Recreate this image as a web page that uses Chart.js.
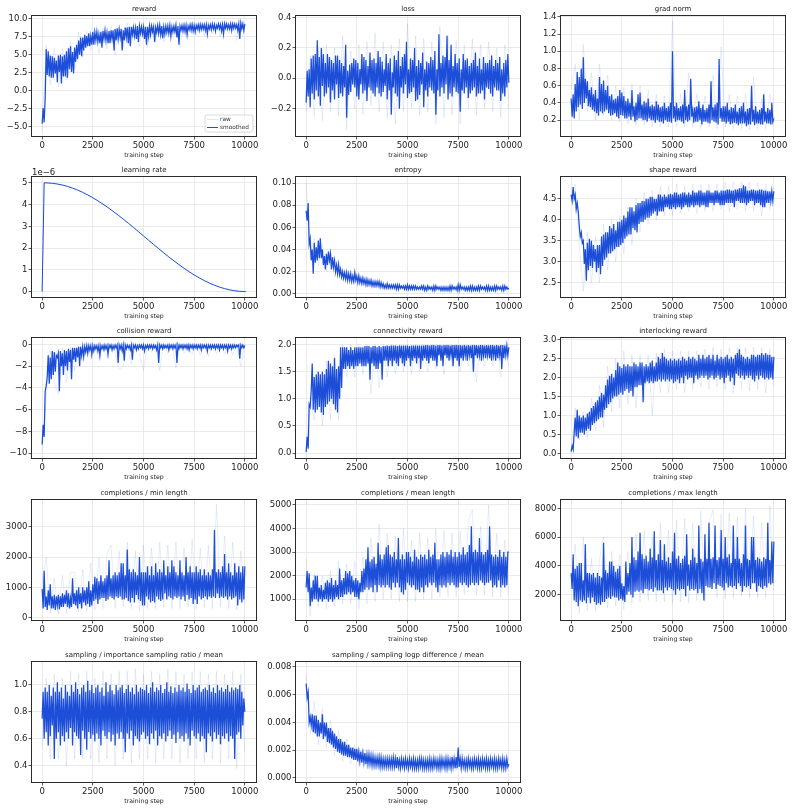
<!DOCTYPE html>
<html><head><meta charset="utf-8">
<script src="https://cdn.jsdelivr.net/npm/chart.js@4.4.1/dist/chart.umd.min.js"></script>
<style>
html,body{margin:0;padding:0;background:#fff;}
#wrap{position:relative;width:792px;height:810px;overflow:hidden;background:#fff;}
#wrap canvas{position:absolute;}
</style></head><body><div id="wrap"></div>
<script>
// ---- x categories (training steps) ----
const smoothSteps = [0,50,100,150,200,250,300,350,400,450,500,550,600,650,700,750,800,850,900,950,
1000,1050,1100,1150,1200,1250,1300,1350,1400,1450,1500,1550,1600,1650,1700,1750,1800,1850,1900,1950,
2000,2050,2100,2150,2200,2250,2300,2350,2400,2450,2500,2550,2600,2650,2700,2750,2800,2850,2900,2950,
3000,3050,3100,3150,3200,3250,3300,3350,3400,3450,3500,3550,3600,3650,3700,3750,3800,3850,3900,3950,
4000,4050,4100,4150,4200,4250,4300,4350,4400,4450,4500,4550,4600,4650,4700,4750,4800,4850,4900,4950,
5000,5050,5100,5150,5200,5250,5300,5350,5400,5450,5500,5550,5600,5650,5700,5750,5800,5850,5900,5950,
6000,6050,6100,6150,6200,6250,6300,6350,6400,6450,6500,6550,6600,6650,6700,6750,6800,6850,6900,6950,
7000,7050,7100,7150,7200,7250,7300,7350,7400,7450,7500,7550,7600,7650,7700,7750,7800,7850,7900,7950,
8000,8050,8100,8150,8200,8250,8300,8350,8400,8450,8500,8550,8600,8650,8700,8750,8800,8850,8900,8950,
9000,9050,9100,9150,9200,9250,9300,9350,9400,9450,9500,9550,9600,9650,9700,9750,9800,9850,9900,9950,10000];
const rawSteps = [0,200,400,600,800,1000,1200,1400,1600,1800,2000,2200,2400,2600,2800,3000,3200,3400,3600,3800,
4000,4200,4400,4600,4800,5000,5200,5400,5600,5800,6000,6200,6400,6600,6800,7000,7200,7400,7600,7800,
8000,8200,8400,8600,8800,9000,9200,9400,9600,9800,10000];
const lrSteps = [0,100,250,500,750,1000,1250,1500,1750,2000,2250,2500,2750,3000,3250,3500,3750,4000,4250,4500,4750,
5000,5250,5500,5750,6000,6250,6500,6750,7000,7250,7500,7750,8000,8250,8500,8750,9000,9250,9500,9750,10000,10050];
const xTicks = [0, 2500, 5000, 7500, 10000];

// ---- series values ----
const rewardSmoothed = [-4.6,-2.4,-4.4,-1.0,5.8,2.2,5.5,2.0,4.9,1.8,
4.8,1.8,4.6,2.4,4.2,1.2,4.9,2.6,5.0,1.0,
4.8,2.0,5.0,2.0,5.5,1.8,5.9,3.0,6.2,2.6,
5.4,2.4,6.0,4.0,6.4,4.4,7.0,5.0,7.4,4.8,
7.4,5.6,7.8,6.0,7.6,6.2,8.0,6.2,7.6,6.4,
8.2,6.4,8.1,7.0,8.2,6.8,7.9,6.6,8.2,6.0,
8.3,7.2,8.4,7.0,8.1,6.6,8.3,6.6,8.4,7.2,
8.4,5.6,8.6,7.0,8.7,7.2,8.5,7.4,8.6,5.6,
8.4,7.0,8.8,7.4,8.8,6.6,8.9,6.2,8.9,7.8,
8.8,7.6,8.7,7.2,9.0,6.8,9.0,8.0,8.9,7.9,
8.8,7.2,8.9,6.4,8.9,7.6,9.0,7.8,9.0,8.2,
8.9,6.8,8.8,8.1,9.1,8.0,9.1,7.8,9.0,7.3,
8.9,7.9,9.0,8.1,9.0,8.0,9.1,7.6,8.9,8.2,
9.0,8.2,9.1,7.4,9.0,6.4,9.0,8.4,9.1,8.3,
9.1,8.2,9.1,7.8,9.0,8.5,9.2,8.4,9.2,8.3,
9.1,8.2,9.1,8.6,9.2,8.4,9.2,8.5,9.2,8.6,
9.2,8.4,9.2,7.9,9.1,8.6,9.2,8.5,9.3,8.6,
9.2,8.3,9.1,8.7,9.3,8.6,9.2,8.3,9.2,7.9,
9.3,8.7,9.3,8.6,9.2,8.6,9.3,8.4,9.3,8.7,
9.3,8.7,9.2,8.4,9.3,7.2,9.4,8.6,9.3,8.4,9.3];
const rewardRaw = [-5.5,6.3,0.8,6.0,0.5,5.8,1.5,6.8,3.0,8.2,
4.6,8.3,5.6,8.7,5.2,8.8,5.8,9.0,5.0,9.1,
6.0,9.4,6.5,9.3,6.2,9.5,6.0,9.4,7.0,9.5,
6.8,9.5,7.4,9.6,6.0,9.5,7.6,9.6,7.8,9.6,
7.6,9.6,7.9,9.6,7.5,9.7,8.0,9.6,7.0,9.7,8.0];

const lossSmoothed = [-0.16,0.05,-0.12,0.06,-0.19,0.13,-0.10,0.15,-0.14,0.16,
-0.08,0.25,-0.12,0.14,-0.18,0.20,-0.05,0.16,-0.12,0.10,
-0.10,0.16,-0.06,0.14,-0.16,0.12,-0.08,0.10,-0.14,0.15,
-0.04,0.15,-0.13,0.12,-0.10,0.10,-0.12,0.08,-0.06,0.22,
-0.26,0.05,-0.11,0.09,-0.09,0.10,-0.04,0.13,-0.06,0.12,
-0.12,0.10,-0.14,0.06,-0.04,0.16,-0.10,0.14,-0.08,0.12,
-0.15,0.08,-0.06,0.17,-0.08,0.12,-0.10,0.13,-0.12,0.10,
-0.06,0.18,-0.10,0.14,-0.12,0.11,-0.09,0.06,-0.05,0.16,
-0.14,0.10,-0.08,0.13,-0.24,0.04,-0.06,0.15,-0.10,0.12,
-0.12,0.18,-0.20,0.08,-0.06,0.14,-0.10,0.16,-0.04,0.24,
-0.13,0.06,-0.10,0.13,-0.09,0.12,-0.06,0.20,-0.15,0.08,
-0.14,0.12,-0.11,0.10,-0.04,0.17,-0.19,0.06,-0.08,0.11,
-0.12,0.10,-0.06,0.14,-0.08,0.12,-0.10,0.18,-0.24,0.06,
-0.08,0.29,-0.12,0.10,-0.06,0.15,-0.10,0.14,-0.04,0.28,
-0.14,0.12,-0.10,0.22,-0.12,0.08,-0.06,0.16,-0.09,0.10,
-0.10,0.13,-0.22,0.06,-0.08,0.16,-0.10,0.12,-0.06,0.13,
-0.13,0.08,-0.10,0.10,-0.08,0.12,-0.06,0.17,-0.12,0.08,
-0.10,0.13,-0.10,0.06,-0.08,0.14,-0.14,0.10,-0.06,0.10,
-0.07,0.12,-0.10,0.15,-0.12,0.08,-0.06,0.12,-0.08,0.10,
-0.08,0.14,-0.15,0.06,-0.10,0.10,-0.12,0.12,-0.06,0.16,-0.03];
const lossRaw = [-0.22,0.15,-0.25,0.20,-0.28,0.22,-0.22,0.20,-0.25,0.28,
-0.34,0.18,-0.20,0.22,-0.24,0.24,-0.18,0.30,-0.22,0.24,
-0.26,0.22,-0.30,0.26,-0.22,0.36,-0.20,0.28,-0.24,0.26,
-0.22,0.24,-0.30,0.34,-0.26,0.28,-0.24,0.25,-0.30,0.22,
-0.20,0.26,-0.24,0.22,-0.20,0.24,-0.22,0.20,-0.26,0.22,-0.20];

const gradSmoothed = [0.45,0.24,0.50,0.22,0.62,0.30,0.76,0.35,0.70,0.38,
0.80,0.33,0.93,0.40,0.68,0.45,0.65,0.36,0.55,0.35,
0.58,0.32,0.50,0.30,0.55,0.28,0.45,0.25,0.70,0.30,
0.62,0.28,0.66,0.30,0.55,0.32,0.60,0.28,0.48,0.25,
0.50,0.26,0.44,0.28,0.45,0.24,0.48,0.22,0.55,0.26,
0.52,0.25,0.48,0.22,0.42,0.22,0.45,0.24,0.40,0.20,
0.55,0.24,0.36,0.18,0.40,0.20,0.50,0.22,0.52,0.22,
0.38,0.20,0.42,0.20,0.40,0.18,0.45,0.22,0.36,0.20,
0.38,0.20,0.36,0.17,0.42,0.20,0.38,0.18,0.35,0.18,
0.36,0.16,0.40,0.20,0.34,0.18,0.36,0.18,0.40,0.17,
1.00,0.22,0.36,0.18,0.40,0.20,0.34,0.20,0.36,0.18,
0.38,0.16,0.55,0.20,0.36,0.18,0.38,0.20,0.68,0.24,
0.32,0.17,0.35,0.18,0.36,0.18,0.42,0.20,0.34,0.15,
0.38,0.18,0.32,0.18,0.34,0.17,0.38,0.16,0.65,0.20,
0.35,0.18,0.38,0.17,0.40,0.15,0.91,0.22,0.34,0.18,
0.36,0.18,0.36,0.16,0.40,0.18,0.32,0.15,0.35,0.16,
0.34,0.17,0.38,0.16,0.30,0.14,0.34,0.16,0.36,0.16,
0.40,0.16,0.30,0.13,0.33,0.15,0.34,0.15,0.60,0.18,
0.32,0.14,0.36,0.16,0.30,0.16,0.32,0.15,0.34,0.15,
0.50,0.18,0.30,0.16,0.34,0.16,0.32,0.15,0.40,0.18,0.22];
const gradRaw = [0.55,0.85,0.20,1.08,0.30,0.75,0.20,0.85,0.25,0.72,
0.20,0.60,0.18,0.58,0.15,0.62,0.14,0.60,0.14,0.55,
0.12,0.50,0.12,0.48,0.12,1.35,0.13,0.50,0.12,0.75,
0.12,0.50,0.10,0.48,0.12,0.72,0.10,1.05,0.12,0.50,
0.10,0.48,0.10,0.50,0.09,0.70,0.10,0.45,0.10,0.50,0.15];

// learning rate, in units of 1e-6 (axis offset label "1e-6")
const lrValues = [0,5.0,4.997,4.980,4.948,4.900,4.837,4.760,4.668,4.563,4.446,4.316,4.175,4.023,3.862,3.693,3.516,3.333,3.145,2.952,2.756,
2.559,2.362,2.166,1.971,1.780,1.593,1.413,1.238,1.072,0.914,0.767,0.630,0.505,0.392,0.293,0.207,0.135,0.079,0.037,0.011,0.001,0.0];

const entropySmoothed = [0.075,0.066,0.082,0.045,0.050,0.030,0.040,0.018,0.046,0.028,
0.042,0.030,0.048,0.032,0.050,0.032,0.040,0.026,0.034,0.022,
0.036,0.026,0.038,0.030,0.036,0.022,0.033,0.024,0.030,0.020,
0.026,0.018,0.026,0.017,0.022,0.015,0.020,0.014,0.019,0.013,
0.019,0.012,0.018,0.012,0.018,0.011,0.016,0.011,0.019,0.012,
0.016,0.010,0.016,0.010,0.014,0.009,0.014,0.009,0.013,0.008,
0.013,0.008,0.012,0.008,0.012,0.007,0.011,0.007,0.011,0.007,
0.011,0.007,0.011,0.006,0.010,0.006,0.009,0.005,0.008,0.005,
0.009,0.005,0.008,0.005,0.008,0.005,0.008,0.005,0.008,0.004,
0.008,0.004,0.008,0.005,0.007,0.005,0.007,0.004,0.007,0.004,
0.008,0.004,0.007,0.004,0.007,0.004,0.007,0.004,0.007,0.004,
0.006,0.004,0.006,0.004,0.007,0.004,0.007,0.003,0.006,0.003,
0.007,0.004,0.006,0.004,0.006,0.003,0.007,0.003,0.007,0.004,
0.006,0.004,0.006,0.003,0.006,0.003,0.006,0.003,0.006,0.003,
0.006,0.003,0.007,0.003,0.007,0.004,0.006,0.004,0.006,0.003,
0.008,0.003,0.008,0.004,0.006,0.004,0.006,0.003,0.006,0.003,
0.006,0.003,0.007,0.003,0.007,0.003,0.006,0.003,0.006,0.003,
0.007,0.003,0.007,0.004,0.006,0.004,0.006,0.003,0.007,0.003,
0.007,0.003,0.006,0.003,0.006,0.003,0.007,0.003,0.007,0.004,
0.006,0.004,0.006,0.003,0.007,0.003,0.007,0.004,0.006,0.004,0.005];
const entropyRaw = [0.100,0.035,0.050,0.025,0.045,0.020,0.040,0.015,0.030,0.012,
0.022,0.010,0.020,0.008,0.016,0.006,0.014,0.005,0.012,0.004,
0.010,0.003,0.009,0.003,0.009,0.003,0.008,0.003,0.008,0.002,
0.008,0.002,0.008,0.002,0.007,0.002,0.008,0.002,0.009,0.002,
0.007,0.002,0.008,0.002,0.007,0.002,0.008,0.002,0.008,0.002,0.007];

const shapeSmoothed = [4.60,4.45,4.78,4.50,4.60,4.25,4.40,4.20,3.85,3.60,
3.70,3.45,3.50,2.95,3.30,2.55,3.45,2.80,3.55,2.90,
3.50,2.85,3.40,3.00,3.30,2.75,3.40,2.85,3.40,2.70,
3.60,2.90,3.65,3.05,3.70,3.10,3.70,3.20,3.85,3.20,
3.80,3.25,3.90,3.30,3.75,3.35,3.95,3.35,3.95,3.40,
4.00,3.45,4.10,3.55,4.05,3.60,4.20,3.65,4.30,3.65,
4.30,3.80,4.20,3.75,4.35,3.70,4.40,3.90,4.40,3.95,
4.45,3.95,4.45,4.00,4.50,4.05,4.50,4.05,4.55,4.10,
4.55,4.15,4.50,4.20,4.50,4.10,4.60,4.20,4.60,4.20,
4.55,4.20,4.60,4.30,4.55,4.30,4.60,4.25,4.62,4.25,
4.60,4.30,4.65,4.25,4.65,4.30,4.60,4.30,4.62,4.25,
4.65,4.30,4.65,4.35,4.60,4.30,4.65,4.30,4.60,4.35,
4.70,4.30,4.65,4.35,4.65,4.35,4.70,4.30,4.70,4.35,
4.65,4.35,4.65,4.30,4.70,4.30,4.70,4.40,4.65,4.40,
4.65,4.35,4.70,4.40,4.70,4.40,4.65,4.35,4.70,4.35,
4.70,4.35,4.70,4.40,4.72,4.40,4.72,4.40,4.70,4.40,
4.70,4.30,4.72,4.45,4.72,4.45,4.75,4.40,4.75,4.40,
4.82,4.40,4.80,4.35,4.70,4.40,4.70,4.45,4.72,4.45,
4.72,4.35,4.70,4.40,4.70,4.40,4.72,4.35,4.72,4.30,
4.70,4.30,4.70,4.40,4.68,4.40,4.68,4.45,4.68,4.45,4.68];
const shapeRaw = [4.45,4.85,3.40,2.30,3.70,2.50,3.60,2.50,3.90,2.80,
4.00,3.00,4.10,3.20,4.30,3.40,4.50,3.70,4.65,3.90,
4.70,4.00,4.80,4.10,4.80,4.10,4.85,4.15,4.80,4.20,
4.85,4.15,4.85,4.20,4.85,4.20,4.85,4.25,4.90,4.20,
4.90,4.25,4.90,4.20,4.90,4.20,4.88,4.10,4.85,4.25,4.80];

const collisionSmoothed = [-9.2,-7.4,-8.5,-4.3,-3.8,-3.0,-1.0,-3.6,-1.2,-3.2,
-0.6,-2.8,-0.7,-2.5,-1.0,-1.2,-0.8,-4.3,-0.6,-2.0,
-0.8,-2.8,-0.5,-2.0,-0.6,-2.4,-0.4,-1.6,-0.5,-3.2,
-0.3,-1.4,-0.3,-1.6,-0.3,-1.2,-0.2,-2.0,-0.2,-1.0,
-0.2,-1.1,-0.2,-0.7,-0.1,-0.8,-0.1,-0.5,-0.1,-0.9,
-0.1,-0.6,-0.1,-0.4,-0.1,-0.6,-0.1,-1.0,-0.1,-0.4,
-0.1,-0.5,-0.05,-0.4,-0.1,-0.9,-0.05,-0.3,-0.05,-0.5,
-0.1,-0.4,-0.05,-0.3,-0.05,-1.7,-0.05,-0.4,-0.05,-0.6,
-0.05,-1.5,-0.05,-0.4,-0.05,-0.3,-0.1,-0.5,-0.05,-1.4,
-0.05,-0.3,-0.05,-0.5,-0.1,-0.4,-0.05,-0.3,-0.05,-0.4,
-0.05,-0.6,-0.1,-0.3,-0.05,-0.4,-0.05,-0.3,-0.05,-0.4,
-0.05,-0.3,-0.1,-0.5,-0.05,-1.7,-0.05,-0.3,-0.05,-0.4,
-0.05,-0.3,-0.1,-0.3,-0.05,-0.5,-0.05,-0.3,-0.05,-0.4,
-0.05,-0.3,-0.05,-1.7,-0.05,-0.4,-0.05,-0.3,-0.05,-0.4,
-0.05,-0.3,-0.05,-0.4,-0.05,-0.5,-0.05,-0.3,-0.05,-0.4,
-0.05,-0.3,-0.05,-0.4,-0.05,-0.3,-0.05,-0.5,-0.05,-0.3,
-0.05,-0.3,-0.05,-0.6,-0.05,-0.3,-0.05,-0.4,-0.05,-0.3,
-0.05,-0.4,-0.05,-0.3,-0.05,-0.5,-0.05,-0.3,-0.05,-0.4,
-0.05,-0.3,-0.05,-0.6,-0.05,-0.3,-0.05,-0.4,-0.05,-0.3,
-0.05,-0.3,-0.05,-0.2,-0.05,-1.3,-0.05,-0.3,-0.05,-0.3,-0.1];
const collisionRaw = [-10.0,-4.8,-0.5,-3.6,-4.6,-0.3,-3.4,-0.2,-2.4,-0.1,
-1.5,0.0,-1.2,0.0,-1.3,0.0,-1.2,0.0,-0.8,-2.3,
-2.0,0.0,-1.8,0.0,-0.9,-2.4,0.0,-0.7,0.0,-2.4,
0.0,-0.8,0.0,-2.2,0.0,-0.8,0.0,-0.9,0.0,-1.0,
0.0,-1.1,0.0,-0.8,0.0,-0.9,0.0,-1.0,0.0,-2.0,0.0];

const connectivitySmoothed = [0.02,0.30,0.08,0.90,0.85,1.15,1.65,0.80,1.40,0.75,
1.45,0.80,1.50,0.85,1.45,0.75,1.50,0.70,1.45,0.85,
1.55,0.90,1.70,0.95,1.65,1.00,1.60,0.90,1.75,0.80,
1.55,0.75,1.60,1.00,1.95,1.20,1.95,1.55,1.95,1.55,
1.95,1.60,1.90,1.55,1.95,1.60,1.90,1.55,1.95,1.60,
1.95,1.60,1.95,1.65,1.95,1.60,1.95,1.60,1.97,1.60,
1.97,1.65,1.97,1.35,1.95,1.65,1.97,1.60,1.97,1.55,
1.95,1.55,1.97,1.65,1.95,1.35,1.97,1.70,1.97,1.70,
1.98,1.60,1.97,1.70,1.98,1.60,1.98,1.70,1.98,1.65,
1.97,1.60,1.98,1.75,1.98,1.65,1.98,1.60,1.98,1.70,
1.98,1.75,1.97,1.60,1.98,1.70,1.98,1.75,1.98,1.65,
1.98,1.75,1.98,1.55,1.98,1.70,1.98,1.75,1.99,1.70,
1.99,1.65,1.98,1.75,1.99,1.70,1.99,1.70,1.98,1.60,
1.99,1.80,1.99,1.70,1.98,1.60,1.99,1.80,1.99,1.75,
1.99,1.70,1.98,1.80,1.99,1.60,1.99,1.75,1.99,1.70,
1.99,1.60,1.99,1.75,1.98,1.70,1.99,1.80,1.98,1.70,
1.99,1.80,1.98,1.75,1.99,1.50,1.99,1.80,1.99,1.75,
1.98,1.80,1.99,1.70,1.99,1.80,1.98,1.75,1.99,1.80,
1.98,1.75,1.99,1.70,1.99,1.80,1.98,1.70,1.99,1.75,
1.98,1.80,1.99,1.55,1.99,1.75,1.98,1.80,1.98,1.80,1.95];
const connectivityRaw = [0.00,1.00,0.60,1.50,0.50,1.70,0.60,1.80,0.60,2.00,
1.40,2.00,1.40,2.00,1.45,2.00,1.10,2.00,1.20,2.00,
1.40,2.00,1.45,2.00,1.50,2.00,1.45,2.00,1.50,2.00,
1.50,2.00,1.55,2.00,1.45,2.00,1.60,2.00,1.50,2.00,
1.60,2.00,1.30,2.00,1.60,2.00,1.60,2.00,1.40,2.00,1.60];

const interlockingSmoothed = [0.05,0.20,0.10,0.55,0.95,0.45,1.15,0.40,1.00,0.55,
0.95,0.55,1.00,0.50,0.95,0.60,1.05,0.65,1.10,0.60,
1.20,0.75,1.25,0.80,1.35,0.85,1.40,0.90,1.50,0.95,
1.60,0.95,1.55,1.15,1.80,1.20,1.95,1.30,2.05,1.35,
2.10,1.45,2.00,1.50,2.20,1.50,2.40,1.55,2.30,1.60,
2.25,1.55,2.35,1.65,2.30,1.70,2.35,1.60,2.30,1.65,
2.30,1.50,2.40,1.75,2.35,1.75,2.30,1.80,2.40,1.80,
2.40,1.35,2.30,1.85,2.35,1.90,2.30,1.85,2.40,1.90,
2.45,1.85,2.30,1.90,2.40,1.90,2.55,1.95,2.50,1.90,
2.65,1.95,2.55,1.90,2.50,1.95,2.45,1.90,2.50,1.95,
2.45,1.85,2.50,1.90,2.45,1.95,2.50,1.85,2.45,2.00,
2.55,1.85,2.50,2.05,2.45,1.95,2.55,2.00,2.50,2.00,
2.55,1.85,2.50,2.05,2.45,1.95,2.60,2.00,2.50,2.05,
2.60,2.00,2.50,2.05,2.55,1.95,2.60,2.00,2.50,2.05,
2.60,1.95,2.45,2.00,2.60,2.05,2.50,1.95,2.55,2.00,
2.50,1.85,2.55,2.00,2.60,2.05,2.50,1.90,2.55,2.00,
2.50,1.80,2.60,2.10,2.65,2.05,2.75,2.00,2.60,2.05,
2.55,1.95,2.50,2.05,2.55,2.00,2.50,2.05,2.60,1.95,
2.60,1.90,2.55,2.05,2.60,1.95,2.60,2.05,2.65,2.00,
2.60,1.95,2.65,2.00,2.60,1.95,2.60,2.00,2.55,1.95,2.55];
const interlockingRaw = [0.00,1.20,0.35,1.10,0.40,1.45,0.60,1.80,0.70,2.30,
1.10,2.50,1.20,2.70,1.30,2.60,1.20,2.60,1.40,2.60,
1.00,2.65,1.60,2.75,1.60,2.70,1.70,2.70,1.60,2.70,
1.70,2.70,1.75,2.75,1.70,2.80,1.75,2.75,1.70,2.80,
1.60,2.80,1.70,2.80,1.65,2.80,1.70,2.80,1.60,2.75,1.80];

const minLenSmoothed = [950,300,1550,350,700,250,900,400,1100,300,
700,300,750,250,700,400,750,280,700,350,
800,350,750,450,900,350,800,300,650,350,
1300,450,800,400,900,300,1000,450,800,300,
1000,500,900,400,1000,450,1200,350,900,400,
1100,550,1350,600,1300,450,1200,600,1400,650,
1200,650,1300,550,1400,600,1900,700,1300,650,
1400,600,1500,700,1400,650,1500,700,1800,600,
1800,600,1400,650,2250,550,1600,500,1500,650,
1600,500,1500,750,1400,600,2000,550,1500,400,
1500,400,1500,700,1700,600,1400,500,1700,550,
1400,500,1800,700,1500,600,1600,550,1500,600,
1900,800,1400,600,1700,700,1500,650,1900,600,
1700,700,1500,650,1400,700,1900,600,1500,700,
1400,550,2000,750,1500,600,1700,650,1500,450,
1500,600,1700,450,1500,700,1600,600,1400,650,
1600,700,1400,600,1500,700,1400,650,1600,700,
2900,650,1500,800,1600,650,1500,700,1700,650,
2100,700,1500,600,1800,700,1500,600,1400,650,
1800,700,1500,400,1700,600,1500,500,1700,600,1700];
const minLenRaw = [1100,2000,150,1300,100,1400,150,1500,1500,200,
1600,200,1800,250,2000,300,2100,2400,300,2200,
350,2500,300,2200,250,2400,300,2300,300,2500,
350,2400,300,2500,300,2300,350,2600,300,2300,
350,2400,300,3750,350,2700,300,2500,250,2200,400];

const meanLenSmoothed = [1500,2200,1300,2100,700,1500,900,1800,1000,2000,
1000,2000,900,1500,1000,1600,900,1400,1000,1700,
1000,1800,900,1700,1000,1900,900,1600,1000,1800,
1100,1600,1000,2300,1100,1800,1100,1900,1200,2200,
1200,2100,1300,2200,1200,2000,1300,1800,1100,1900,
1100,1800,1000,1700,1300,2200,1300,2300,1400,2700,
1500,3200,1400,2600,1500,2700,1300,2800,1600,2500,
1300,3400,1600,2900,1500,2700,1600,2900,1500,3200,
1600,3300,1500,2900,1400,2800,1700,3000,1500,2700,
1700,3600,1500,2700,1300,2900,1200,2700,1400,3000,
1700,3000,1600,2800,1500,2600,1600,3100,1400,2800,
1400,2700,1300,2900,1500,2800,1300,2900,1600,2700,
1500,3100,1700,2800,1600,2900,1700,3400,1500,2700,
1300,2700,1600,2900,1500,3000,1600,2800,1500,3000,
1700,2900,1600,3100,1700,2800,1600,3000,1500,2800,
1500,3000,1700,2900,1600,3200,1700,2900,1600,3000,
1500,3300,1600,4100,1700,3000,1600,3100,1700,3000,
1600,3600,1800,3000,1700,2900,1600,3000,1700,3100,
1700,4100,1800,2900,1500,2800,1600,2900,1500,2800,
1800,3100,1500,2800,1600,3000,1500,2800,1600,3000,3000];
const meanLenRaw = [2700,300,2100,700,2000,600,2200,700,2600,800,
2500,800,2600,600,2800,800,3600,900,4200,1000,
3800,1000,3700,900,4000,900,3500,900,3800,1000,
3600,1000,4000,1100,3900,1100,3800,1100,3900,1200,
4300,4800,1200,4100,1200,5000,1100,3800,1100,3500,1200];

const maxLenSmoothed = [3500,2400,4800,1600,3800,1500,4000,1200,4200,1600,
4200,1500,3000,1600,5500,1400,3500,1800,3500,1400,
3400,1800,3500,1500,3200,1300,3500,1400,3300,1300,
3200,1500,5600,1500,3700,1700,3500,1800,4300,1700,
4300,1900,4000,1800,3600,1800,3800,1600,4000,1700,
2800,1600,2600,1500,4300,2000,3500,2200,4200,2000,
6000,1800,4600,2200,4400,2300,5000,2200,6300,2300,
4800,2100,4500,2400,4700,2400,4300,2300,5200,2400,
4600,2200,6400,2500,4400,2300,4800,2300,5800,2300,
4400,2100,5500,2500,4300,2300,4600,2500,4200,2400,
5000,2300,6300,2000,4500,2400,4700,2300,4200,2400,
4500,2400,4700,1900,6200,2600,4100,2300,4400,2400,
5200,2300,4600,2400,4200,2100,6800,2400,4500,2100,
4300,1600,6200,2600,4500,2500,7000,2500,4500,2400,
4600,2800,6800,2400,4400,2700,4600,2600,6500,2500,
4500,2300,6000,2800,4600,2500,4800,2600,4200,2500,
6800,2600,4500,2400,6000,2800,4500,2600,4200,2200,
4800,2600,6800,2500,4500,2600,4400,2400,6000,2800,
6000,2800,4400,2200,4600,2600,4500,2500,4300,2400,
4600,2600,4500,2500,7000,2800,4400,2700,5700,2800,5700];
const maxLenRaw = [2500,5500,700,6000,900,4500,900,4400,6000,1100,
5000,1200,4800,1000,5000,1400,6200,1500,6500,1600,
6000,1500,7000,1500,6500,1400,7200,1500,7300,1400,
7000,1600,7800,1500,7000,7900,1800,7600,1700,7700,
1800,7400,1900,8000,1800,7500,1800,7000,1800,8200,2300];

const isRatioSmoothed = [0.75,0.95,0.60,0.98,0.65,0.95,0.55,1.00,0.62,0.92,
0.70,0.98,0.45,0.95,0.60,1.02,0.65,0.95,0.55,0.98,
0.62,0.90,0.58,1.00,0.65,0.95,0.60,0.92,0.68,1.00,
0.55,0.95,0.65,1.02,0.62,0.97,0.60,0.93,0.48,0.98,
0.66,1.00,0.60,0.95,0.52,1.03,0.65,0.96,0.60,1.00,
0.63,0.94,0.58,0.98,0.64,1.00,0.60,0.95,0.55,0.98,
0.66,0.92,0.62,1.02,0.60,0.95,0.65,1.00,0.58,0.96,
0.63,0.93,0.55,1.00,0.64,0.96,0.60,0.98,0.65,1.00,
0.60,0.94,0.50,0.97,0.64,1.00,0.60,0.95,0.66,0.98,
0.55,0.93,0.62,1.00,0.60,0.95,0.58,0.98,0.63,0.97,
0.65,0.96,0.60,1.00,0.62,0.94,0.56,0.98,0.64,1.02,
0.60,0.95,0.66,0.98,0.55,0.96,0.62,1.00,0.60,0.94,
0.64,0.97,0.58,1.02,0.62,0.95,0.66,0.99,0.60,0.94,
0.63,0.98,0.57,0.95,0.65,1.00,0.60,0.96,0.62,0.98,
0.58,0.95,0.64,1.01,0.60,0.97,0.55,0.94,0.66,1.00,
0.62,0.96,0.60,0.98,0.64,1.00,0.58,0.95,0.62,0.97,
0.60,0.98,0.50,0.96,0.64,1.00,0.62,0.95,0.58,0.98,
0.65,0.94,0.60,1.00,0.63,0.96,0.56,0.98,0.62,0.95,
0.60,0.97,0.64,1.00,0.58,0.95,0.62,0.98,0.60,0.96,
0.45,0.98,0.63,0.97,0.65,1.00,0.60,0.95,0.70,0.90,0.80];
const isRatioRaw = [0.55,1.05,0.45,1.08,0.45,1.05,0.40,1.10,0.45,1.08,
0.45,1.10,0.45,1.05,0.42,1.10,0.45,1.08,0.40,1.10,
0.45,1.10,0.42,1.12,0.45,1.08,0.45,1.10,0.42,1.08,
0.45,1.12,0.45,1.10,0.42,1.08,0.45,1.10,0.45,1.10,
0.42,1.08,0.45,1.10,0.42,1.08,0.45,1.10,0.38,1.08,0.50];

const logpDiffSmoothed = [0.0068,0.0058,0.0062,0.0040,0.0044,0.0038,0.0046,0.0033,0.0045,0.0032,
0.0045,0.0030,0.0042,0.0030,0.0040,0.0032,0.0046,0.0028,0.0040,0.0030,
0.0040,0.0026,0.0036,0.0025,0.0036,0.0024,0.0034,0.0022,0.0032,0.0021,
0.0030,0.0019,0.0028,0.0018,0.0028,0.0017,0.0026,0.0016,0.0026,0.0016,
0.0024,0.0015,0.0024,0.0015,0.0022,0.0014,0.0022,0.0013,0.0021,0.0013,
0.0021,0.0012,0.0019,0.0012,0.0019,0.0011,0.0018,0.0011,0.0018,0.0010,
0.0017,0.0010,0.0017,0.0010,0.0016,0.0009,0.0016,0.0009,0.0015,0.0009,
0.0015,0.0009,0.0015,0.0008,0.0015,0.0008,0.0014,0.0008,0.0014,0.0008,
0.0014,0.0008,0.0014,0.0008,0.0014,0.0008,0.0015,0.0008,0.0014,0.0007,
0.0015,0.0008,0.0013,0.0007,0.0014,0.0008,0.0013,0.0007,0.0014,0.0008,
0.0013,0.0007,0.0014,0.0008,0.0013,0.0007,0.0014,0.0007,0.0013,0.0007,
0.0013,0.0007,0.0014,0.0008,0.0014,0.0007,0.0013,0.0007,0.0013,0.0007,
0.0013,0.0007,0.0014,0.0007,0.0013,0.0007,0.0014,0.0008,0.0013,0.0007,
0.0013,0.0007,0.0014,0.0007,0.0014,0.0008,0.0013,0.0007,0.0014,0.0007,
0.0014,0.0008,0.0013,0.0007,0.0015,0.0008,0.0014,0.0007,0.0015,0.0007,
0.0022,0.0008,0.0014,0.0007,0.0014,0.0008,0.0013,0.0007,0.0013,0.0007,
0.0014,0.0008,0.0013,0.0007,0.0013,0.0007,0.0014,0.0008,0.0013,0.0007,
0.0014,0.0007,0.0013,0.0007,0.0014,0.0008,0.0013,0.0007,0.0014,0.0007,
0.0013,0.0007,0.0014,0.0008,0.0013,0.0007,0.0014,0.0007,0.0013,0.0007,
0.0014,0.0008,0.0013,0.0007,0.0014,0.0007,0.0013,0.0007,0.0014,0.0008,0.0010];
const logpDiffRaw = [0.0075,0.0032,0.0055,0.0024,0.0050,0.0022,0.0042,0.0016,0.0034,0.0012,
0.0028,0.0010,0.0024,0.0009,0.0021,0.0007,0.0019,0.0006,0.0018,0.0006,
0.0017,0.0005,0.0017,0.0005,0.0016,0.0005,0.0016,0.0005,0.0016,0.0004,
0.0016,0.0005,0.0016,0.0004,0.0016,0.0005,0.0017,0.0005,0.0024,0.0004,
0.0016,0.0005,0.0016,0.0004,0.0016,0.0005,0.0016,0.0004,0.0016,0.0005,0.0015];

// ---- panel titles and y tick labels ----
const titles = ['reward','loss','grad norm','learning rate','entropy','shape reward',
  'collision reward','connectivity reward','interlocking reward',
  'completions / min length','completions / mean length','completions / max length',
  'sampling / importance sampling ratio / mean','sampling / sampling logp difference / mean'];
const rewardTicks = [-5, -2.5, 0, 2.5, 5, 7.5, 10];
const lossTicks = [-0.2, 0, 0.2, 0.4];
const gradTicks = [0.2, 0.4, 0.6, 0.8, 1.0, 1.2, 1.4];
const lrTicks = [0, 1, 2, 3, 4, 5];
const entropyTicks = [0, 0.02, 0.04, 0.06, 0.08, 0.10];
const shapeTicks = [2.5, 3.0, 3.5, 4.0, 4.5];
const collisionTicks = [-10, -8, -6, -4, -2, 0];
const connectivityTicks = [0, 0.5, 1.0, 1.5, 2.0];
const interlockingTicks = [0, 0.5, 1.0, 1.5, 2.0, 2.5, 3.0];
const minLenTicks = [0, 1000, 2000, 3000];
const meanLenTicks = [1000, 2000, 3000, 4000, 5000];
const maxLenTicks = [2000, 4000, 6000, 8000];
const isRatioTicks = [0.4, 0.6, 0.8, 1.0];
const logpDiffTicks = [0, 0.002, 0.004, 0.006, 0.008];

const FONT = '"DejaVu Sans", sans-serif';
const BLUE = '#1d4ed8';
const RAWC = 'rgba(29,78,216,0.10)';
const TXT = '#222';

const panels = [
  {s: rewardSmoothed, r: rewardRaw, ticks: rewardTicks, min: -6.3, max: 10.4, dec: 1, legend: true},
  {s: lossSmoothed, r: lossRaw, ticks: lossTicks, min: -0.38, max: 0.41, dec: 1},
  {s: gradSmoothed, r: gradRaw, ticks: gradTicks, min: 0.015, max: 1.41, dec: 1},
  {s: lrValues, r: lrValues, sx: lrSteps, rx: lrSteps, ticks: lrTicks, min: -0.25, max: 5.27, dec: 0, offset: '1e\u22126', lw: 1},
  {s: entropySmoothed, r: entropyRaw, ticks: entropyTicks, min: -0.003, max: 0.1055, dec: 2},
  {s: shapeSmoothed, r: shapeRaw, ticks: shapeTicks, min: 2.16, max: 5.02, dec: 1},
  {s: collisionSmoothed, r: collisionRaw, ticks: collisionTicks, min: -10.45, max: 0.6, dec: 0},
  {s: connectivitySmoothed, r: connectivityRaw, ticks: connectivityTicks, min: -0.09, max: 2.12, dec: 1},
  {s: interlockingSmoothed, r: interlockingRaw, ticks: interlockingTicks, min: -0.12, max: 3.045, dec: 1},
  {s: minLenSmoothed, r: minLenRaw, ticks: minLenTicks, min: -80, max: 3890, dec: 0},
  {s: meanLenSmoothed, r: meanLenRaw, ticks: meanLenTicks, min: 120, max: 5210, dec: 0},
  {s: maxLenSmoothed, r: maxLenRaw, ticks: maxLenTicks, min: 240, max: 8580, dec: 0},
  {s: isRatioSmoothed, r: isRatioRaw, ticks: isRatioTicks, min: 0.28, max: 1.17, dec: 1},
  {s: logpDiffSmoothed, r: logpDiffRaw, ticks: logpDiffTicks, min: -0.00029, max: 0.00836, dec: 3}
];

// ---- layout ----
const PLOT_L = [32, 296, 561];
const PLOT_T = [16, 177, 338, 500, 662];
const PW = 224, PH = 120, YW = 32, TOPPAD = 16, XH = 26, RPAD = 6;

function fmt(dec) {
  return v => {
    const s = Math.abs(v).toFixed(dec);
    return (v < 0 && parseFloat(s) !== 0 ? '\u2212' : '') + s;
  };
}

const deco = {
  id: 'deco',
  afterDraw(chart) {
    const o = chart.options.plugins.deco;
    const {ctx, chartArea: a} = chart;
    ctx.save();
    ctx.strokeStyle = '#2b2b2b';
    ctx.lineWidth = 1;
    ctx.strokeRect(a.left - 0.5, a.top - 0.5, a.right - a.left + 1, a.bottom - a.top + 1);
    ctx.fillStyle = TXT;
    ctx.font = '7px ' + FONT;
    ctx.textAlign = 'center';
    ctx.textBaseline = 'middle';
    ctx.fillText(o.title, (a.left + a.right) / 2, a.top - 6.5);
    if (o.offset) {
      ctx.font = '8.5px ' + FONT;
      ctx.textAlign = 'left';
      ctx.textBaseline = 'middle';
      ctx.fillText(o.offset, a.left, a.top - 4.5);
    }
    if (o.legend) {
      const bx = a.right - 51, by = a.bottom - 21, bw = 48, bh = 17;
      ctx.fillStyle = 'rgba(255,255,255,0.85)';
      ctx.strokeStyle = '#d0d0d0';
      ctx.lineWidth = 0.8;
      ctx.beginPath();
      ctx.roundRect(bx, by, bw, bh, 2);
      ctx.fill(); ctx.stroke();
      ctx.lineWidth = 1;
      ctx.strokeStyle = 'rgba(29,78,216,0.15)';
      ctx.beginPath(); ctx.moveTo(bx + 2, by + 4.5); ctx.lineTo(bx + 13, by + 4.5); ctx.stroke();
      ctx.strokeStyle = BLUE;
      ctx.beginPath(); ctx.moveTo(bx + 2, by + 12.5); ctx.lineTo(bx + 13, by + 12.5); ctx.stroke();
      ctx.fillStyle = '#333';
      ctx.font = '5.8px ' + FONT;
      ctx.textAlign = 'left';
      ctx.textBaseline = 'middle';
      ctx.fillText('raw', bx + 15, by + 4.5);
      ctx.fillText('smoothed', bx + 15, by + 12.5);
    }
    ctx.restore();
  }
};

const wrap = document.getElementById('wrap');
panels.forEach((p, i) => {
  const col = i % 3, row = Math.floor(i / 3);
  const cv = document.createElement('canvas');
  const w = YW + PW + RPAD, h = TOPPAD + PH + XH;
  cv.width = w; cv.height = h;
  cv.style.left = (PLOT_L[col] - YW) + 'px';
  cv.style.top = (PLOT_T[row] - TOPPAD) + 'px';
  cv.style.width = w + 'px'; cv.style.height = h + 'px';
  wrap.appendChild(cv);
  const sx = p.sx || smoothSteps, rx = p.rx || rawSteps;
  new Chart(cv, {
    type: 'line',
    data: {
      datasets: [
        {label: 'smoothed', data: sx.map((x, k) => ({x, y: p.s[k]})), borderColor: BLUE, borderWidth: p.lw || 1.25, pointRadius: 0, tension: 0, fill: false, order: 1},
        {label: 'raw', data: rx.map((x, k) => ({x, y: p.r[k]})), borderColor: RAWC, borderWidth: 1, pointRadius: 0, tension: 0, fill: false, order: 2}
      ]
    },
    options: {
      responsive: false, animation: false, devicePixelRatio: 1,
      layout: {padding: {top: TOPPAD, right: RPAD, left: 0, bottom: 0}},
      plugins: {legend: {display: false}, tooltip: {enabled: false}, title: {display: false},
        deco: {title: titles[i], legend: !!p.legend, offset: p.offset || null}},
      scales: {
        x: {
          type: 'linear', min: -500, max: 10550,
          afterFit(s) { s.height = XH; },
          afterBuildTicks(s) { s.ticks = xTicks.map(v => ({value: v})); },
          ticks: {font: {family: FONT, size: 8.5}, color: TXT, padding: 1.5, maxRotation: 0, autoSkip: false, callback: v => String(v)},
          grid: {color: '#e4e4e4', lineWidth: 0.8, tickLength: 3.5, tickColor: '#333', tickWidth: 0.8},
          border: {display: false},
          title: {display: true, text: 'training step', font: {family: FONT, size: 6.2}, color: TXT, padding: {top: 0, bottom: 2.5}}
        },
        y: {
          type: 'linear', min: p.min, max: p.max,
          afterFit(s) { s.width = YW; },
          afterBuildTicks(s) { s.ticks = p.ticks.map(v => ({value: v})); },
          ticks: {font: {family: FONT, size: 8.5}, color: TXT, padding: 1, autoSkip: false, callback: fmt(p.dec)},
          grid: {color: '#e4e4e4', lineWidth: 0.8, tickLength: 3.5, tickColor: '#333', tickWidth: 0.8},
          border: {display: false}
        }
      }
    },
    plugins: [deco]
  });
});
</script>
</body></html>
